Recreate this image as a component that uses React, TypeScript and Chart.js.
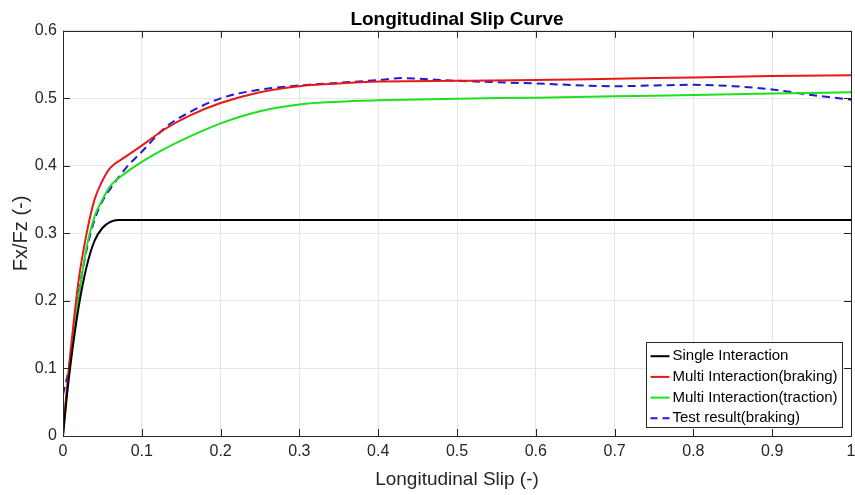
import React, { useEffect, useRef } from "react";
import { Chart, registerables } from "chart.js";

Chart.register(...registerables);

const CHART_TITLE = "Longitudinal Slip Curve";
const X_TITLE = "Longitudinal Slip (-)";
const Y_TITLE = "Fx/Fz (-)";

const singleLabel = "Single Interaction";
const singleX = [0, 0.005, 0.01, 0.02, 0.03, 0.04, 0.05, 0.06, 0.07, 0.08, 0.1, 0.2, 0.4, 0.6, 0.8, 1.0];
const singleY = [0, 0.06, 0.11, 0.192, 0.251, 0.289, 0.308, 0.317, 0.32, 0.32, 0.32, 0.32, 0.32, 0.32, 0.32, 0.32];

const brakeLabel = "Multi Interaction(braking)";
const brakeX = [0, 0.005, 0.01, 0.02, 0.03, 0.04, 0.05, 0.06, 0.08, 0.1, 0.13, 0.16, 0.2, 0.25, 0.3, 0.35, 0.4, 0.5, 0.6, 0.7, 0.8, 0.9, 1.0];
const brakeY = [0.012, 0.07, 0.13, 0.232, 0.3, 0.35, 0.378, 0.397, 0.414, 0.43, 0.455, 0.474, 0.493, 0.509, 0.518, 0.522, 0.525, 0.526, 0.527, 0.529, 0.531, 0.533, 0.534];

const tractLabel = "Multi Interaction(traction)";
const tractX = [0, 0.005, 0.01, 0.02, 0.03, 0.04, 0.05, 0.06, 0.08, 0.1, 0.13, 0.16, 0.2, 0.25, 0.3, 0.35, 0.4, 0.5, 0.6, 0.7, 0.8, 0.9, 1.0];
const tractY = [0, 0.068, 0.125, 0.207, 0.28, 0.325, 0.35, 0.37, 0.39, 0.406, 0.426, 0.443, 0.463, 0.481, 0.491, 0.495, 0.497, 0.4995, 0.501, 0.503, 0.505, 0.507, 0.509];

const testLabel = "Test result(braking)";
const testX = [0, 0.007, 0.013, 0.02, 0.03, 0.04, 0.05, 0.06, 0.08, 0.1, 0.13, 0.16, 0.2, 0.25, 0.3, 0.35, 0.4, 0.43, 0.45, 0.5, 0.6, 0.7, 0.75, 0.8, 0.85, 0.9, 0.95, 1.0];
const testY = [0.061, 0.098, 0.147, 0.211, 0.276, 0.32, 0.348, 0.366, 0.397, 0.421, 0.457, 0.479, 0.5, 0.513, 0.519, 0.523, 0.527, 0.53, 0.529, 0.526, 0.522, 0.518, 0.519, 0.52, 0.518, 0.513, 0.505, 0.498];

const xTicks = [0, 0.1, 0.2, 0.3, 0.4, 0.5, 0.6, 0.7, 0.8, 0.9, 1];
const yTicks = [0, 0.1, 0.2, 0.3, 0.4, 0.5, 0.6];

const FONT = "'Liberation Sans', Arial, Helvetica, sans-serif";
const AXIS_COLOR = "#262626";

const pts = (xs: number[], ys: number[]) => xs.map((x, i) => ({ x, y: ys[i] }));

const framePlugin = {
  id: "frameTicks",
  afterDatasetsDraw(chart: any) {
    const ctx = chart.ctx;
    const { left, right, top, bottom } = chart.chartArea;
    const xs = chart.scales.x;
    const ys = chart.scales.y;
    const tl = 7;
    ctx.save();
    ctx.strokeStyle = AXIS_COLOR;
    ctx.lineWidth = 1;
    ctx.beginPath();
    xTicks.forEach((v) => {
      const px = Math.round(xs.getPixelForValue(v)) + 0.5;
      ctx.moveTo(px, bottom);
      ctx.lineTo(px, bottom - tl);
      ctx.moveTo(px, top);
      ctx.lineTo(px, top + tl);
    });
    yTicks.forEach((v) => {
      const py = Math.round(ys.getPixelForValue(v)) + 0.5;
      ctx.moveTo(left, py);
      ctx.lineTo(left + tl, py);
      ctx.moveTo(right, py);
      ctx.lineTo(right - tl, py);
    });
    ctx.stroke();
    ctx.strokeRect(Math.round(left) + 0.5, Math.round(top) + 0.5, Math.round(right - left), Math.round(bottom - top));

    // legend box inside the plot, bottom-right
    const items = chart.data.datasets;
    ctx.font = `15px ${FONT}`;
    let maxW = 0;
    items.forEach((d: any) => {
      maxW = Math.max(maxW, ctx.measureText(d.label).width);
    });
    const rowH = 20.7;
    const boxW = Math.round(26 + maxW + 5);
    const boxH = Math.round(13.7 + rowH * (items.length - 1) + 9.5);
    const bx = Math.round(right - 9 - boxW) + 0.5;
    const by = Math.round(bottom - 9 - boxH) + 0.5;
    ctx.fillStyle = "#ffffff";
    ctx.fillRect(bx, by, boxW, boxH);
    ctx.strokeStyle = AXIS_COLOR;
    ctx.lineWidth = 1;
    ctx.strokeRect(bx, by, boxW, boxH);
    items.forEach((d: any, i: number) => {
      const cy = by + 13.7 + rowH * i;
      ctx.beginPath();
      ctx.strokeStyle = d.borderColor;
      ctx.lineWidth = 2;
      ctx.setLineDash(d.borderDash && d.borderDash.length ? [7, 5] : []);
      ctx.moveTo(bx + 4, cy);
      ctx.lineTo(bx + 23, cy);
      ctx.stroke();
      ctx.setLineDash([]);
      ctx.fillStyle = "#000000";
      ctx.textBaseline = "middle";
      ctx.textAlign = "left";
      ctx.fillText(d.label, bx + 26, cy);
    });
    ctx.restore();
  },
};

export default function App() {
  const ref = useRef<HTMLCanvasElement | null>(null);

  useEffect(() => {
    document.body.style.margin = "0";
    if (!ref.current) return;
    const common = { borderWidth: 2, pointRadius: 0, cubicInterpolationMode: "monotone", fill: false };
    const chart = new Chart(ref.current, {
      type: "line",
      data: {
        datasets: [
          { ...common, label: singleLabel, data: pts(singleX, singleY), borderColor: "#000000" },
          { ...common, label: brakeLabel, data: pts(brakeX, brakeY), borderColor: "#e81818" },
          { ...common, label: tractLabel, data: pts(tractX, tractY), borderColor: "#1ee01e" },
          { ...common, label: testLabel, data: pts(testX, testY), borderColor: "#1c1cd0", borderDash: [8, 5] },
        ],
      },
      options: {
        animation: false,
        responsive: false,
        maintainAspectRatio: false,
        layout: { padding: { left: 0, right: 4, top: 0, bottom: 0 } },
        plugins: {
          legend: { display: false },
          tooltip: { enabled: false },
          title: {
            display: true,
            text: CHART_TITLE,
            fullSize: false,
            color: "#000000",
            font: { family: FONT, size: 19, weight: "bold" },
            padding: { top: 8, bottom: 0 },
          },
        },
        scales: {
          x: {
            type: "linear",
            min: 0,
            max: 1,
            afterBuildTicks: (s: any) => {
              s.ticks = xTicks.map((v) => ({ value: v }));
            },
            afterFit: (s: any) => {
              s.height = 59;
              s.paddingLeft = 0;
              s.paddingRight = 0;
            },
            grid: { color: "#e6e6e6", drawTicks: false },
            border: { display: false },
            ticks: {
              color: AXIS_COLOR,
              font: { family: FONT, size: 16 },
              padding: 6,
              maxRotation: 0,
              callback: (v: any) => String(Number(Number(v).toFixed(1))),
            },
            title: {
              display: true,
              text: X_TITLE,
              color: AXIS_COLOR,
              font: { family: FONT, size: 19 },
              padding: { top: 0, bottom: 4 },
            },
          },
          y: {
            type: "linear",
            min: 0,
            max: 0.6,
            afterBuildTicks: (s: any) => {
              s.ticks = yTicks.map((v) => ({ value: v }));
            },
            afterFit: (s: any) => {
              s.width = 63;
              s.paddingTop = 0;
              s.paddingBottom = 0;
            },
            grid: { color: "#e6e6e6", drawTicks: false },
            border: { display: false },
            ticks: {
              color: AXIS_COLOR,
              font: { family: FONT, size: 16 },
              padding: 6,
              callback: (v: any) => String(Number(Number(v).toFixed(1))),
            },
            title: {
              display: true,
              text: Y_TITLE,
              color: AXIS_COLOR,
              font: { family: FONT, size: 20 },
              padding: { top: 9, bottom: 0 },
            },
          },
        },
      },
      plugins: [framePlugin],
    } as any);
    return () => chart.destroy();
  }, []);

  return (
    <div style={{ width: 855, height: 495, position: "relative" }}>
      <canvas ref={ref} width={855} height={495} style={{ display: "block", width: 855, height: 495 }} />
    </div>
  );
}
